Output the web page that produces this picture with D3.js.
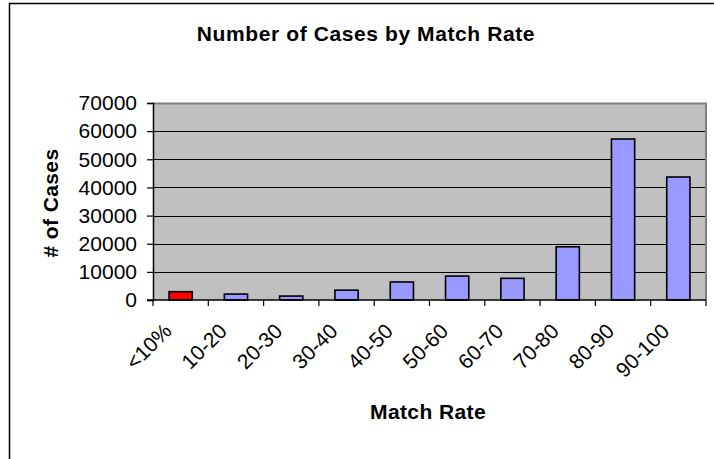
<!DOCTYPE html>
<html>
<head>
<meta charset="utf-8">
<script src="https://cdn.jsdelivr.net/npm/d3@7"></script>
<style>
  html, body { margin: 0; padding: 0; background: #fff; }
  svg { display: block; }
  text { font-family: Arial, "Liberation Sans", sans-serif; fill: #000; }
</style>
</head>
<body>
<svg id="chart" width="714" height="459"></svg>
<script>
// Match-rate buckets and number of cases in each
const categories = ["<10%", "10-20", "20-30", "30-40", "40-50", "50-60", "60-70", "70-80", "80-90", "90-100"];
const cases = [2950, 2100, 1400, 3500, 6400, 8500, 7700, 18900, 57200, 43700];
const yTicks = [0, 10000, 20000, 30000, 40000, 50000, 60000, 70000];
const highlighted = ["<10%"];

const svg = d3.select("#chart");
const W = 714, H = 459;
const plot = { left: 153, right: 706, top: 103, bottom: 300 };

// outer chart frame
svg.append("rect")
  .attr("x", 9.5).attr("y", 3.5)
  .attr("width", W + 10).attr("height", H + 10)
  .attr("fill", "#fff").attr("stroke", "#000").attr("stroke-width", 1.5);

const x = d3.scaleBand().domain(categories)
  .range([plot.left, plot.right]).paddingInner(0.58).paddingOuter(0.29);
const y = d3.scaleLinear().domain([0, 70000]).range([plot.bottom, plot.top]);

// plot area background
svg.append("rect")
  .attr("x", plot.left).attr("y", plot.top)
  .attr("width", plot.right - plot.left).attr("height", plot.bottom - plot.top)
  .attr("fill", "#C0C0C0");

// horizontal gridlines
svg.append("g").selectAll("line").data(yTicks.filter(d => d > 0)).join("line")
  .attr("x1", plot.left).attr("x2", plot.right)
  .attr("y1", d => Math.round(y(d)) + 0.5).attr("y2", d => Math.round(y(d)) + 0.5)
  .attr("stroke", "#000").attr("stroke-width", 1);

// plot area border (right and top in grey)
svg.append("path")
  .attr("d", `M${plot.left},${plot.top + 0.5}H${plot.right}V${plot.bottom}`)
  .attr("fill", "none").attr("stroke", "#808080").attr("stroke-width", 2);

// bars
svg.append("g").selectAll("rect").data(categories).join("rect")
  .attr("x", d => x(d))
  .attr("y", (d, i) => y(cases[i]))
  .attr("width", x.bandwidth())
  .attr("height", (d, i) => y(0) - y(cases[i]))
  .attr("fill", d => highlighted.includes(d) ? "#FF0000" : "#9999FF")
  .attr("stroke", "#000").attr("stroke-width", 1.6);

// y axis
const yAxis = svg.append("g")
  .attr("transform", `translate(${plot.left},0)`)
  .call(d3.axisLeft(y).tickValues(yTicks).tickSize(6).tickPadding(10).tickFormat(d3.format("d")));
yAxis.select(".domain").attr("stroke", "#000").attr("stroke-width", 1.5);
yAxis.selectAll(".tick line").attr("stroke", "#000").attr("stroke-width", 1.2);
yAxis.selectAll(".tick text")
  .style("font-size", "21px").style("font-family", "Arial, 'Liberation Sans', sans-serif")
  .attr("fill", "#000");

// x axis: ticks on category boundaries
const bounds = d3.range(categories.length + 1).map(i => plot.left + i * x.step());
const xAxisG = svg.append("g");
xAxisG.append("line")
  .attr("x1", plot.left - 6).attr("x2", plot.right)
  .attr("y1", plot.bottom).attr("y2", plot.bottom)
  .attr("stroke", "#000").attr("stroke-width", 1.5);
xAxisG.selectAll("line.tk").data(bounds).join("line").attr("class", "tk")
  .attr("x1", d => d).attr("x2", d => d)
  .attr("y1", plot.bottom).attr("y2", plot.bottom + 6)
  .attr("stroke", "#000").attr("stroke-width", 1.2);

// rotated category labels
xAxisG.selectAll("text").data(categories).join("text")
  .attr("transform", d => `translate(${x(d) + x.bandwidth() / 2 - 18},${plot.bottom + 22}) rotate(-45)`)
  .attr("text-anchor", "end")
  .attr("dy", "0.7em")
  .style("font-size", "21px")
  .text(d => d);

// titles
svg.append("text")
  .attr("x", 366).attr("y", 41)
  .attr("text-anchor", "middle")
  .style("font-size", "21px").style("font-weight", "bold").style("letter-spacing", "0.6px")
  .text("Number of Cases by Match Rate");

svg.append("text")
  .attr("transform", `translate(58,203) rotate(-90)`)
  .attr("text-anchor", "middle")
  .style("font-size", "21px").style("font-weight", "bold").style("letter-spacing", "0.4px")
  .text("# of Cases");

svg.append("text")
  .attr("x", 428).attr("y", 419)
  .attr("text-anchor", "middle")
  .style("font-size", "21px").style("font-weight", "bold").style("letter-spacing", "0.4px")
  .text("Match Rate");
</script>
</body>
</html>
